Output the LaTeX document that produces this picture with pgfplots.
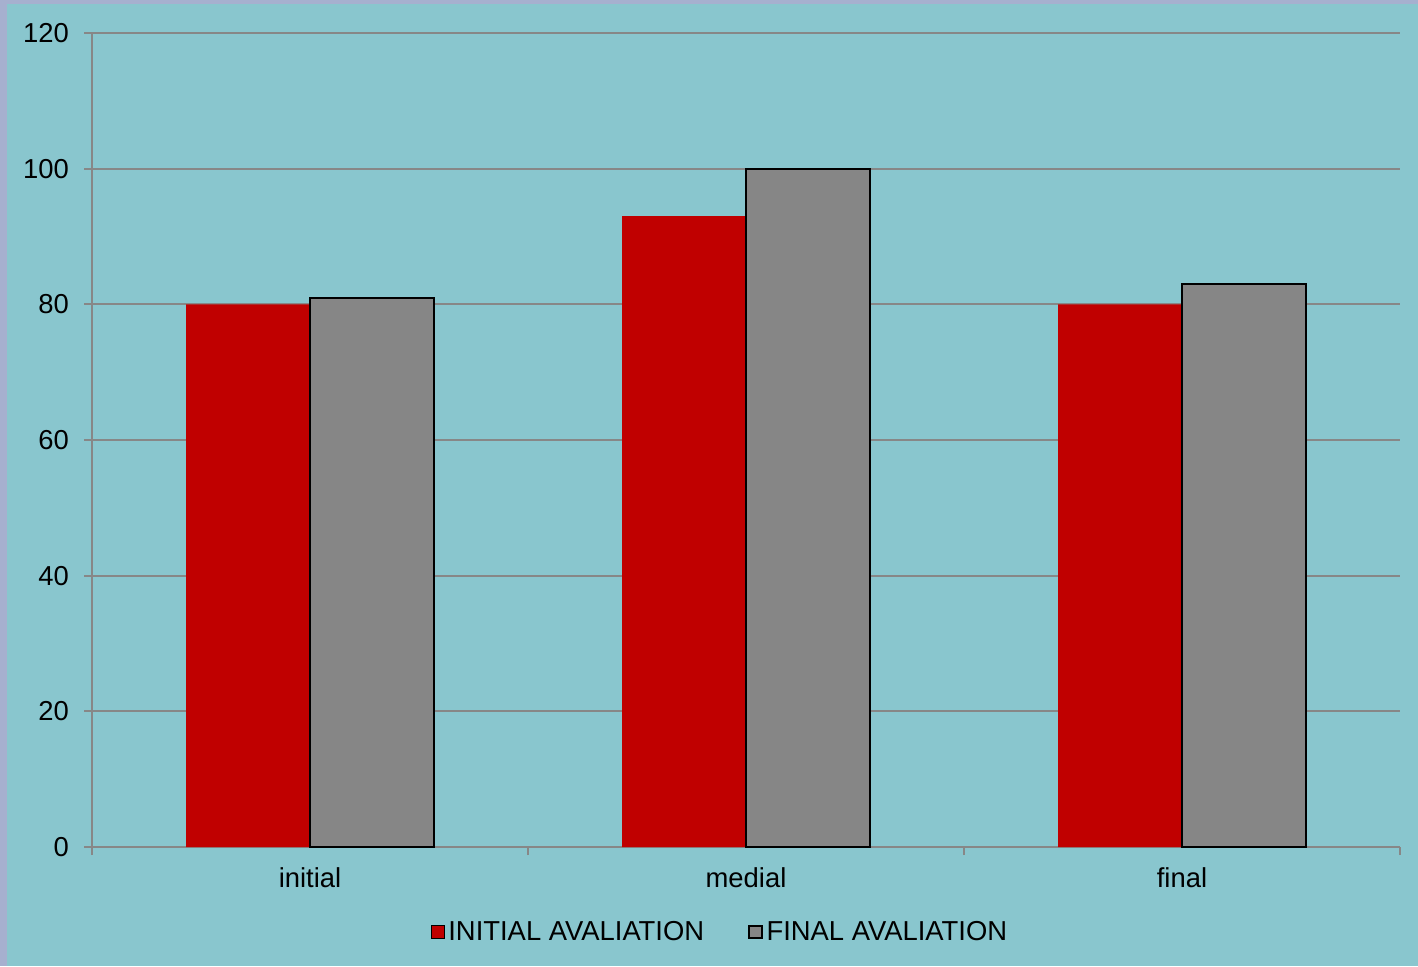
\documentclass[border=0pt]{standalone}
\usepackage{pgfplots}
\pgfplotsset{compat=1.18}
\usepackage{fontspec}
\setmainfont{Liberation Sans}
\definecolor{bg}{HTML}{89C6CE}
\definecolor{side}{HTML}{A6B0CF}
\definecolor{gridgray}{HTML}{878787}
\definecolor{barred}{HTML}{C00000}
\definecolor{bargray}{HTML}{868686}
\begin{document}
\begin{tikzpicture}[x=1pt,y=1pt]
\fill[side] (0,0) rectangle (709,483);
\fill[bg] (3.5,0) rectangle (709,481);
\begin{axis}[
  at={(46pt,59.5pt)}, anchor=south west,
  scale only axis, width=654pt, height=407pt,
  xmin=-0.5, xmax=2.5, ymin=0, ymax=120,
  ytick={0,20,...,120},
  xtick={-0.5,0.5,1.5,2.5},
  x tick label as interval,
  xticklabels={initial,medial,final},
  axis x line*=bottom, axis y line*=left,
  axis line style={gridgray, line width=1pt},
  tick style={gridgray, line width=1pt},
  tick align=outside, major tick length=4pt,
  ymajorgrids, grid style={gridgray, line width=1pt},
  ticklabel style={font=\fontsize{13.7}{15}\selectfont, text=black},
  yticklabel style={xshift=-4pt},
  xticklabel style={yshift=-3pt},
  /pgf/number format/assume math mode=true,
  legend columns=2,
  legend style={draw=none, fill=none, at={(0.481,-0.1044)}, anchor=center,
    font=\fontsize{13.7}{15}\selectfont,
    /tikz/every even column/.append style={column sep=20pt}},
  legend image code/.code={\draw[#1] (0pt,-3.1pt) rectangle (6.2pt,3.1pt);},
]
\addplot[ybar, bar width=62pt, bar shift=-31pt, fill=barred, draw=none]
  coordinates {(0,80) (1,93) (2,80)};
\addlegendentry{INITIAL AVALIATION}
\addplot[ybar, bar width=62pt, bar shift=31pt, fill=bargray, draw=black, line width=1pt]
  coordinates {(0,81) (1,100) (2,83)};
\addlegendentry{FINAL AVALIATION}
\end{axis}
\end{tikzpicture}
\end{document}
